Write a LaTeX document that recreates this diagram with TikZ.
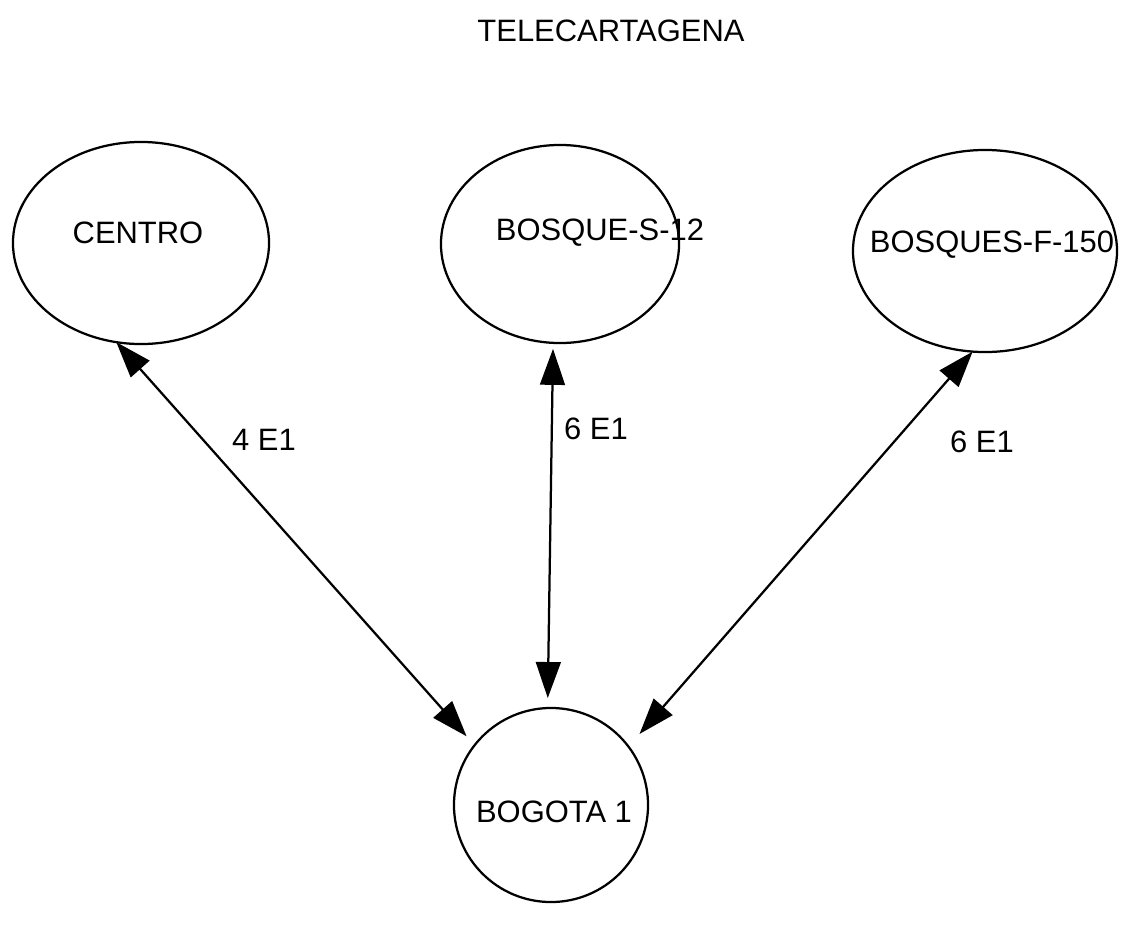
\documentclass[tikz,border=0pt]{standalone}
\usepackage{fontspec}
\setmainfont{Liberation Sans}
\usetikzlibrary{arrows.meta,shapes.geometric}
\tikzstyle{arrow} = [<->,>={Triangle[length=0.9cm,width=0.62cm]},line width=1.6pt]
\tikzstyle{site} = [draw,ellipse,line width=1.6pt,inner sep=0pt,outer sep=0pt]
\tikzstyle{txt} = [font=\fontsize{22}{26}\selectfont,inner sep=0pt,anchor=base]

\begin{document}
\begin{tikzpicture}[x=0.025cm,y=-0.025cm]
        \useasboundingbox (0,0) rectangle (1129,928);
        \node[txt] at (611,41) (title) {TELECARTAGENA};

        \node[site, minimum width=6.4cm, minimum height=5.05cm] at (141,243) (centro) {};
        \node[site, minimum width=5.95cm, minimum height=4.95cm] at (560,244) (bosqs) {};
        \node[site, minimum width=6.6cm, minimum height=5.05cm] at (985,251) (bosqf) {};
        \node[site, circle, minimum size=4.85cm] at (551,805) (bogota) {};

        \node[txt] at (600,240) (bosqs-txt) {BOSQUE-S-12};
        \node[txt] at (138,243) (centro-txt) {CENTRO};
        \node[txt] at (992,252) (bosqf-txt) {BOSQUES-F-150};
        \node[txt] at (554,822) (bogota-txt) {BOGOTA 1};

        \draw[arrow, shorten >=0.3cm] (centro.-104) -- (bogota.142);
        \draw[arrow, shorten <=0.15cm, shorten >=0.25cm] (bosqs.-94) -- (bogota.92);
        \draw[arrow, shorten >=0.42cm] (bosqf.-97) -- (bogota.37);

        \node[txt] at (264,450) (e1-centro) {4 E1};
        \node[txt] at (596,439) (e1-bosqs) {6 E1};
        \node[txt] at (982,452) (e1-bosqf) {6 E1};

    \end{tikzpicture}
\end{document}
